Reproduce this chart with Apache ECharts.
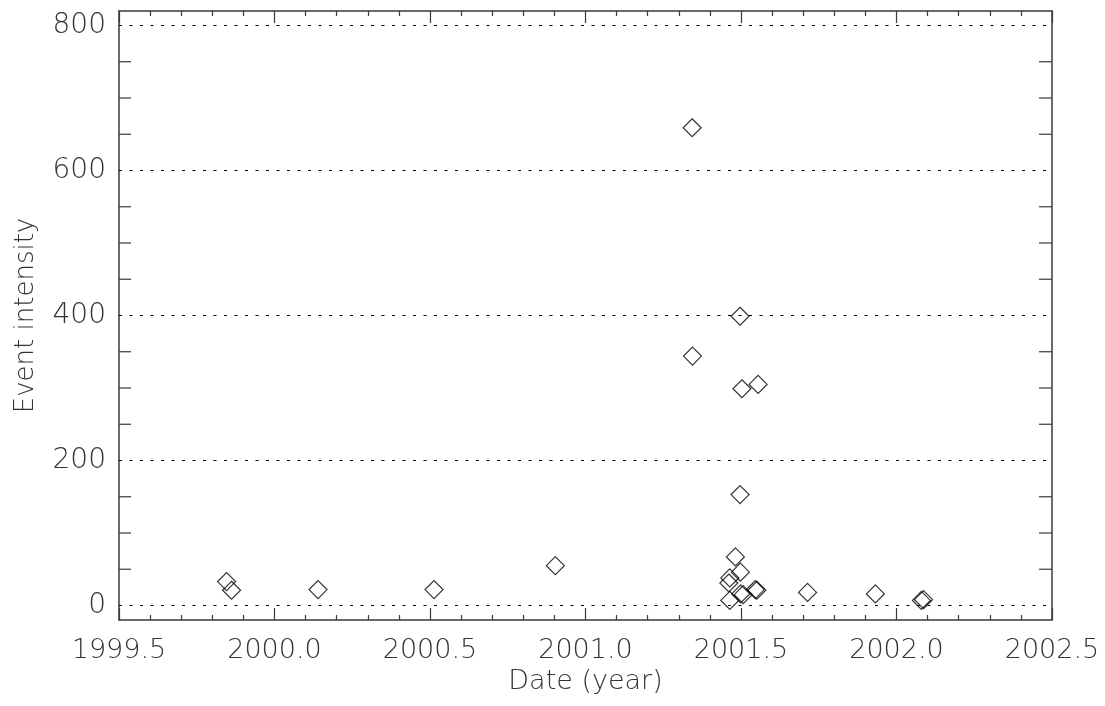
<!DOCTYPE html>
<html>
<head>
<meta charset="utf-8">
<script src="https://cdn.jsdelivr.net/npm/echarts@6/dist/echarts.min.js"></script>
<style>
html,body{margin:0;padding:0;background:#fff;}
#chart{width:1105px;height:706px;}
</style>
</head>
<body>
<div id="chart"></div>
<script>
// Data
var eventYears = [1999.846, 1999.862, 2000.140, 2000.513, 2000.903, 2001.343, 2001.344, 2001.461, 2001.464, 2001.464, 2001.482, 2001.497, 2001.497, 2001.498, 2001.499, 2001.507, 2001.503, 2001.546, 2001.551, 2001.555, 2001.714, 2001.932, 2002.080, 2002.087];
var eventIntensity = [33, 21, 22, 22, 55, 659, 344, 31, 38, 7, 67, 399, 153, 46, 16, 15, 299, 22, 21, 305, 18, 16, 7, 8];
var yMajorTicks = [0, 200, 400, 600, 800];
var yMinorTicks = [50, 100, 150, 250, 300, 350, 450, 500, 550, 650, 700, 750];
var xRange = [1999.5, 2002.5];
var yRange = [-20, 820];

var FONT = "'DejaVu Sans', sans-serif";
var TEXT = '#333';
var AXIS = '#3a3a3a';

var points = eventYears.map(function (x, i) { return [x, eventIntensity[i]]; });

var chart = echarts.init(document.getElementById('chart'), null, {renderer: 'canvas'});

var xCommon = {
  type: 'value', min: xRange[0], max: xRange[1], interval: 0.5,
  axisLine: {show: true, onZero: false, lineStyle: {color: AXIS, width: 1.5}},
  axisTick: {show: true, inside: true, length: 12, lineStyle: {color: AXIS, width: 1.2}},
  minorTick: {show: true, splitNumber: 5, length: 5, lineStyle: {color: AXIS, width: 1.2}},
  splitLine: {show: false}
};

var yCommon = {
  type: 'value', min: yRange[0], max: yRange[1], interval: 20,
  axisLine: {show: true, onZero: false, lineStyle: {color: AXIS, width: 1.5}},
  axisTick: {show: false},
  splitLine: {show: false}
};

var option = {
  animation: false,
  backgroundColor: '#fff',
  grid: {left: 119, right: 53, top: 11, bottom: 86, containLabel: false},
  xAxis: [
    Object.assign({}, xCommon, {
      position: 'bottom',
      name: 'Date (year)', nameLocation: 'middle', nameGap: 47,
      nameTextStyle: {fontFamily: FONT, fontSize: 27, fontWeight: 200, color: TEXT},
      axisLabel: {show: true, margin: 17, fontFamily: FONT, fontSize: 27, fontWeight: 200, color: TEXT,
        formatter: function (v) { return v.toFixed(1); }}
    }),
    Object.assign({}, xCommon, {position: 'top', axisLabel: {show: false}})
  ],
  yAxis: [
    Object.assign({}, yCommon, {
      position: 'left',
      name: 'Event intensity', nameLocation: 'middle', nameGap: 80,
      nameTextStyle: {fontFamily: FONT, fontSize: 26, fontWeight: 200, color: TEXT},
      axisLabel: {show: true, margin: 13, fontFamily: FONT, fontSize: 28, fontWeight: 200, color: TEXT,
        formatter: function (v) { return yMajorTicks.indexOf(Math.round(v)) >= 0 ? String(Math.round(v)) : ''; }}
    }),
    Object.assign({}, yCommon, {position: 'right', axisLabel: {show: false}})
  ],
  series: [
    {
      type: 'custom',
      silent: true,
      xAxisIndex: 0, yAxisIndex: 0,
      data: yMinorTicks.map(function (v) { return [v]; }),
      renderItem: function (params, api) {
        var v = api.value(0);
        var l = api.coord([xRange[0], v]);
        var r = api.coord([xRange[1], v]);
        var st = {stroke: AXIS, lineWidth: 1.2};
        return {type: 'group', children: [
          {type: 'line', shape: {x1: l[0], y1: l[1], x2: l[0] + 12, y2: l[1]}, style: st},
          {type: 'line', shape: {x1: r[0], y1: r[1], x2: r[0] - 13, y2: r[1]}, style: st}
        ]};
      },
      markLine: {
        silent: true, symbol: ['none', 'none'], label: {show: false},
        lineStyle: {color: '#000', width: 1.2, type: [3, 7.5]},
        data: yMajorTicks.map(function (v) { return {yAxis: v}; })
      },
      z: 1
    },
    {
      type: 'scatter',
      silent: true,
      xAxisIndex: 0, yAxisIndex: 0,
      symbol: 'diamond',
      symbolSize: 18,
      itemStyle: {color: 'rgba(0,0,0,0)', borderColor: '#000', borderWidth: 1.2},
      data: points,
      z: 3
    }
  ]
};
chart.setOption(option);
</script>
</body>
</html>
